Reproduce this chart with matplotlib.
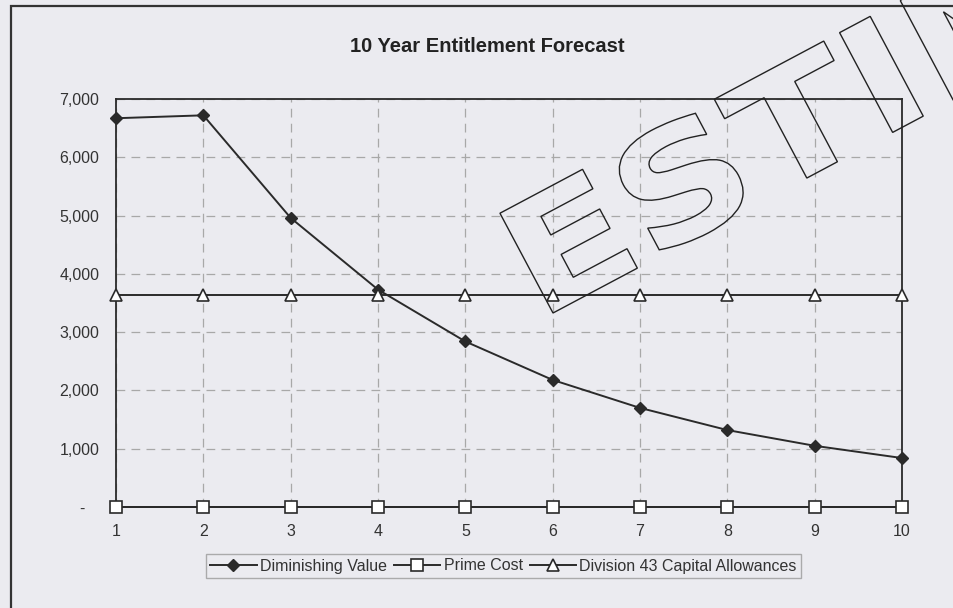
import matplotlib
matplotlib.use("Agg")
import matplotlib.pyplot as plt
from matplotlib.patches import Rectangle, PathPatch
from matplotlib.textpath import TextPath
from matplotlib.font_manager import FontProperties
from matplotlib.transforms import Affine2D
from matplotlib.ticker import FuncFormatter, MultipleLocator

plt.rcParams['font.family'] = ['Liberation Sans', 'DejaVu Sans']

years = [1, 2, 3, 4, 5, 6, 7, 8, 9, 10]
diminishing_value = [6670, 6720, 4960, 3730, 2840, 2180, 1700, 1320, 1050, 840]
prime_cost = [0, 0, 0, 0, 0, 0, 0, 0, 0, 0]
division_43 = [3640, 3640, 3640, 3640, 3640, 3640, 3640, 3640, 3640, 3640]
title = "10 Year Entitlement Forecast"
series_names = ["Diminishing Value", "Prime Cost", "Division 43 Capital Allowances"]
watermark = "ESTIMATE"

bg = '#ebebf0'
W, H = 954, 608
fig = plt.figure(figsize=(W / 100, H / 100), dpi=100, facecolor=bg)
ax = fig.add_axes([116 / W, 1 - 507 / H, (902 - 116) / W, (507 - 99) / H], facecolor=bg)

lc = '#2a2a2a'
ax.plot(years, diminishing_value, color=lc, lw=1.4, marker='D', ms=6.5,
        mfc='#2a2a2a', mec='#2a2a2a', label=series_names[0], zorder=4, clip_on=False)
ax.plot(years, prime_cost, color=lc, lw=1.4, marker='s', ms=8,
        mfc='white', mec=lc, mew=1.2, label=series_names[1], zorder=4, clip_on=False)
ax.plot(years, division_43, color=lc, lw=1.4, marker='^', ms=8.5,
        mfc='white', mec=lc, mew=1.2, label=series_names[2], zorder=4, clip_on=False)

ax.set_xlim(1, 10)
ax.set_ylim(0, 7000)
ax.set_xticks(years)
ax.yaxis.set_major_locator(MultipleLocator(1000))
ax.yaxis.set_major_formatter(FuncFormatter(lambda v, p: "-   " if v == 0 else f"{int(v):,}"))
ax.tick_params(length=0, labelsize=11.5, colors='#333333')
ax.tick_params(axis='y', pad=12)
ax.tick_params(axis='x', pad=12)
ax.grid(True, color='#a8a8a8', lw=0.9, ls=(0, (7, 5)))
for s in ax.spines.values():
    s.set_color('#2a2a2a')
    s.set_linewidth(1.3)

fig.text(487 / W, 1 - 47 / H, title, ha='center', va='center', fontsize=14.5,
         fontweight='bold', color='#222222')

leg = fig.legend(loc='center', bbox_to_anchor=(503.5 / W, 1 - 566 / H), ncol=3,
                 frameon=True, fancybox=False, fontsize=11.5, handlelength=2.9,
                 columnspacing=0.45, handletextpad=0.2, borderpad=0.3,
                 borderaxespad=0)
leg.get_frame().set_edgecolor('#9a9a9a')
leg.get_frame().set_facecolor(bg)
leg.get_frame().set_linewidth(1.0)
for t in leg.get_texts():
    t.set_color('#333333')

# Figure border
fig.add_artist(Rectangle((11 / W, -0.1), 1.2, 1.1 - 6 / H, transform=fig.transFigure,
                         fill=False, ec='#333333', lw=1.6))

# Watermark stamp (outlined letters), built in pixel units
tp = TextPath((0, 0), watermark, size=155,
              prop=FontProperties(family='DejaVu Sans', weight='bold'))
ext = tp.get_extents()
tr = (Affine2D().translate(-ext.x0, 0).scale(1.19, 1.0).rotate_deg(28)
      .translate(553, H - 313).scale(1 / W, 1 / H) + fig.transFigure)
fig.add_artist(PathPatch(tp, transform=tr, facecolor='none', edgecolor='#222222',
                         lw=1.0, zorder=10))

fig.savefig('out.png', dpi=100, facecolor=bg)
